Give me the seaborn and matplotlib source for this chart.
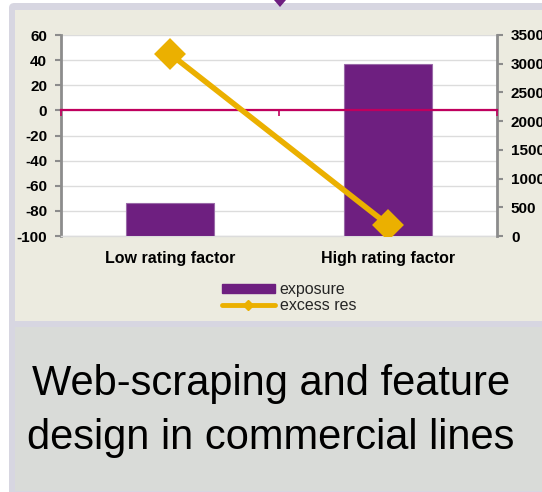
import matplotlib
matplotlib.use("Agg")
import matplotlib.pyplot as plt
import seaborn as sns
import pandas as pd
from matplotlib.patches import Rectangle, FancyBboxPatch, Polygon, Patch
from matplotlib.lines import Line2D

# --- data -------------------------------------------------------------
categories = ["Low rating factor", "High rating factor"]
exposure = [575, 3000]          # right-hand axis
excess_res = [45, -91]          # left-hand axis
left_ticks = [-100, -80, -60, -40, -20, 0, 20, 40, 60]
right_ticks = [0, 500, 1000, 1500, 2000, 2500, 3000, 3500]
series_labels = ["exposure", "excess res"]
title_lines = ["Web-scraping and feature", "design in commercial lines"]

# --- colours ----------------------------------------------------------
PURPLE = "#6e1f80"
GOLD = "#ebb000"
CRIMSON = "#c0005e"
AXIS_GREY = "#8c8c8c"
GRID = "#dcdcdc"
LAVENDER = "#d7d6e1"
BEIGE = "#ecebe0"
SLATE = "#d9dbd8"

W, H = 542, 492

sns.set_theme(style="white")
plt.rcParams["font.family"] = ["Liberation Sans", "DejaVu Sans"]

fig = plt.figure(figsize=(W / 100, H / 100), dpi=100, facecolor="white")


def rect(x0, y0, x1, y1):
    """Pixel box (top-left origin) -> figure-fraction [left, bottom, w, h]."""
    return [x0 / W, 1 - y1 / H, (x1 - x0) / W, (y1 - y0) / H]


def pt(x, y):
    return (x / W, 1 - y / H)


# slide frame and panels
l, b, w, h = rect(9, 3, 560, 500)
fig.add_artist(FancyBboxPatch((l, b), w, h, boxstyle="round,pad=0,rounding_size=0.01",
                              transform=fig.transFigure, facecolor=LAVENDER,
                              edgecolor="none", zorder=-10))
l, b, w, h = rect(15, 10, 542, 321)
fig.add_artist(Rectangle((l, b), w, h, transform=fig.transFigure,
                         facecolor=BEIGE, edgecolor="none", zorder=-9))
l, b, w, h = rect(15, 327, 542, 491)
fig.add_artist(Rectangle((l, b), w, h, transform=fig.transFigure,
                         facecolor=SLATE, edgecolor="none", zorder=-9))
fig.add_artist(Polygon([pt(274, 0), pt(286, 0), pt(280, 7)], closed=True,
                       transform=fig.transFigure, facecolor=PURPLE,
                       edgecolor="none", zorder=-8))

# --- primary axes: left scale, gridlines ------------------------------
ax = fig.add_axes(rect(61, 35, 497, 236))
ax.set_facecolor("white")
ax.set_ylim(left_ticks[0], left_ticks[-1])
ax.yaxis.grid(True, color=GRID, linewidth=1)
ax.xaxis.grid(False)
ax.set_axisbelow(True)

# --- bars on the right-hand scale -------------------------------------
ax_bar = ax.twinx()
bars = pd.DataFrame({"category": categories, "exposure": exposure})
sns.barplot(data=bars, x="category", y="exposure", ax=ax_bar, color=PURPLE,
            saturation=1, width=0.4, edgecolor="#9a6aa8", linewidth=0.8)
ax_bar.set_ylim(right_ticks[0], right_ticks[-1])
ax_bar.set_yticks(right_ticks, labels=[str(t) for t in right_ticks],
                  fontweight="bold", fontsize=11)
ax_bar.set_xlabel("")
ax_bar.set_ylabel("")

# --- line on top, on the left-hand scale ------------------------------
ax_line = ax.twinx()
sns.pointplot(x=categories, y=excess_res, ax=ax_line, color=GOLD,
              markers="D", markersize=13, linewidth=4, errorbar=None)
ax_line.set_ylim(ax.get_ylim())
ax_line.yaxis.set_visible(False)
ax_line.set_xlabel("")
ax_line.set_ylabel("")
for s in ax_line.spines.values():
    s.set_visible(False)

# category axis crossing at zero
zero_pos = (0 - left_ticks[0]) / (left_ticks[-1] - left_ticks[0])
zero_axis = ax_line.secondary_xaxis(zero_pos)
zero_axis.set_alignment("bottom")
zero_axis.spines["bottom"].set_color(CRIMSON)
zero_axis.spines["bottom"].set_linewidth(1.6)
zero_axis.set_xticks([-0.5, 0.5, 1.5], labels=["", "", ""])
zero_axis.tick_params(axis="x", direction="out", length=4, width=1.2,
                      color=CRIMSON, bottom=True, labelbottom=False)

# --- axis styling -----------------------------------------------------
ax.set_yticks(left_ticks, labels=[str(t) for t in left_ticks],
              fontweight="bold", fontsize=11)
ax.set_xlim(-0.5, len(categories) - 0.5)
ax.set_xticks(range(len(categories)), labels=categories,
              fontweight="bold", fontsize=11.5)
ax.tick_params(axis="x", length=0, pad=11, colors="black")
ax.tick_params(axis="y", left=True, length=4, width=1.5, color=AXIS_GREY,
               pad=6, labelcolor="black")
ax_bar.tick_params(axis="y", right=True, length=4, width=1.5, color=AXIS_GREY,
                   pad=6, labelcolor="black")

for s in ("top", "right"):
    ax.spines[s].set_visible(False)
ax.spines["left"].set_color(AXIS_GREY)
ax.spines["left"].set_linewidth(2)
ax.spines["bottom"].set_color(GRID)
ax.spines["bottom"].set_linewidth(1)
for s in ("top", "left", "bottom"):
    ax_bar.spines[s].set_visible(False)
ax_bar.spines["right"].set_color(AXIS_GREY)
ax_bar.spines["right"].set_linewidth(2)

# --- legend -----------------------------------------------------------
handles = [Patch(facecolor=PURPLE, edgecolor=PURPLE),
           Line2D([], [], color=GOLD, linewidth=3.5, marker="D", markersize=5)]
fig.legend(handles=handles, labels=series_labels, loc="upper left",
           bbox_to_anchor=pt(222, 282), frameon=False, fontsize=11.5,
           handlelength=3.3, handleheight=0.5, handletextpad=0.3,
           labelspacing=0.05, borderpad=0, borderaxespad=0)

# --- caption ----------------------------------------------------------
fig.text(271 / W, 1 - 411 / H, "\n".join(title_lines), ha="center",
         va="center", fontsize=30, linespacing=1.48, color="black")

fig.savefig("out.png", dpi=100, facecolor=fig.get_facecolor())
